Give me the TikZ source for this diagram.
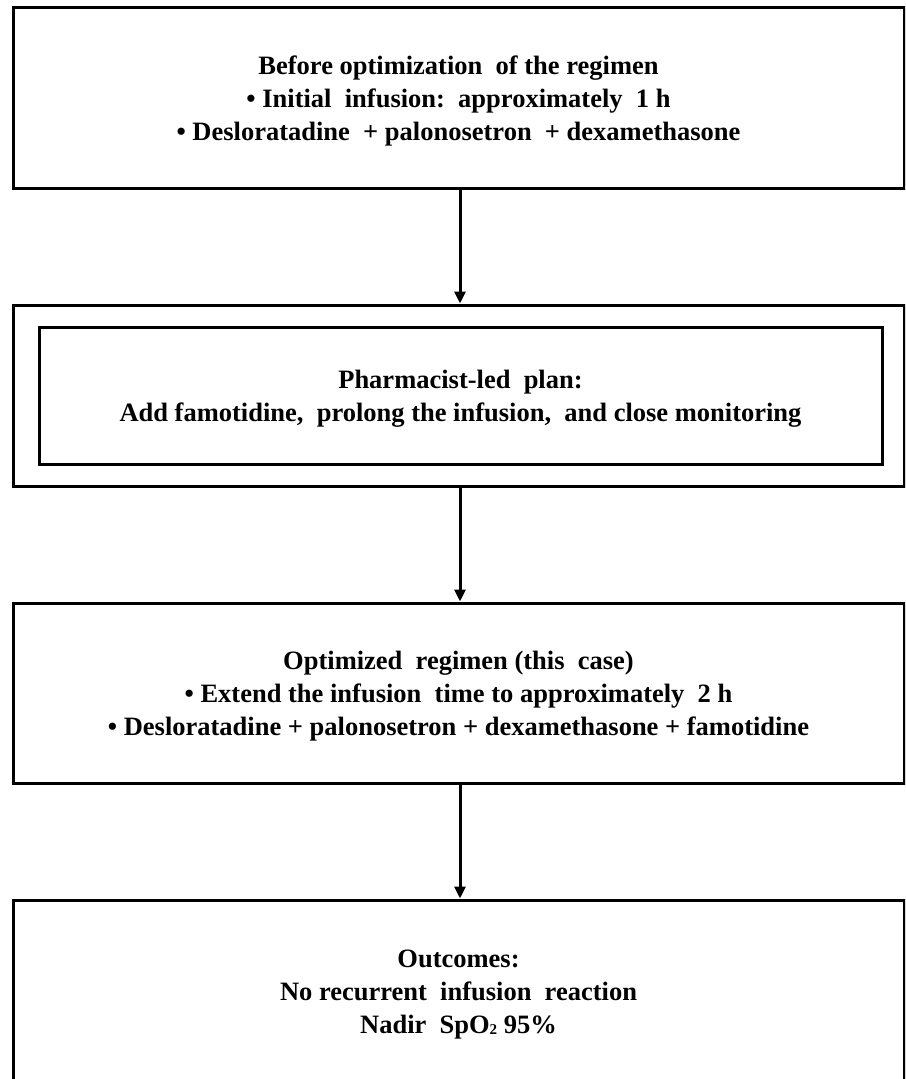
\documentclass[tikz,border=0pt]{standalone}
\usepackage{fontspec}
\setmainfont{Liberation Serif}
\usetikzlibrary{arrows.meta,shadows}
\newcommand{\subtwo}{\raisebox{-1pt}{\fontsize{15}{15}\selectfont 2}}
\begin{document}
\begin{tikzpicture}[x=1pt,y=-1pt,
  box/.style={draw=black,line width=3pt,fill=white,inner sep=0pt,
    drop shadow={shadow xshift=1.5pt,shadow yshift=-2pt,opacity=0.25,fill=black}},
  txt/.style={align=center,inner sep=0pt,
    font=\fontsize{26.5}{33}\selectfont\bfseries},
  flow/.style={line width=3pt,-{Triangle[length=12pt,width=11pt]}}]
\useasboundingbox (0,0) rectangle (905,1079);
\clip (0,0) rectangle (905,1079);
\fill[white] (0,0) rectangle (905,1079);
\node[box,minimum width=891pt,minimum height=181pt] (b1) at (458.5,97.5) {};
\node[txt] (t1) at ([yshift=-3pt]b1.center)
  {Before optimization\ \ of the regimen\\
   \textbullet\ Initial\ \ infusion:\ \ approximately\ \ 1 h\\
   \textbullet\ Desloratadine\ \ + palonosetron\ \ + dexamethasone};
\node[box,minimum width=891pt,minimum height=181pt] (b2) at (458.5,395.5) {};
\node[box,minimum width=843pt,minimum height=137pt] (b2i) at (460.5,395.5) {};
\node[txt] (t2) at ([yshift=-3pt]b2i.center)
  {Pharmacist-led\ \ plan:\\
   Add famotidine,\ \ prolong the infusion,\ \ and close monitoring};
\node[box,minimum width=891pt,minimum height=180pt] (b3) at (458.5,693) {};
\node[txt] (t3) at ([yshift=-3pt]b3.center)
  {Optimized\ \ regimen (this\ \ case)\\
   \textbullet\ Extend the infusion\ \ time to approximately\ \ 2 h\\
   \textbullet\ Desloratadine + palonosetron + dexamethasone + famotidine};
\node[box,minimum width=891pt,minimum height=181pt] (b4) at (458.5,990.5) {};
\node[txt] (t4) at ([yshift=-4pt]b4.center)
  {Outcomes:\\
   No recurrent\ \ infusion\ \ reaction\\
   Nadir\ \ SpO\subtwo\ 95\%};
\draw[flow] (b1.south -| 460,0) -- (b2.north -| 460,0);
\draw[flow] (b2.south -| 460,0) -- (b3.north -| 460,0);
\draw[flow] (b3.south -| 460,0) -- (b4.north -| 460,0);
\end{tikzpicture}
\end{document}
